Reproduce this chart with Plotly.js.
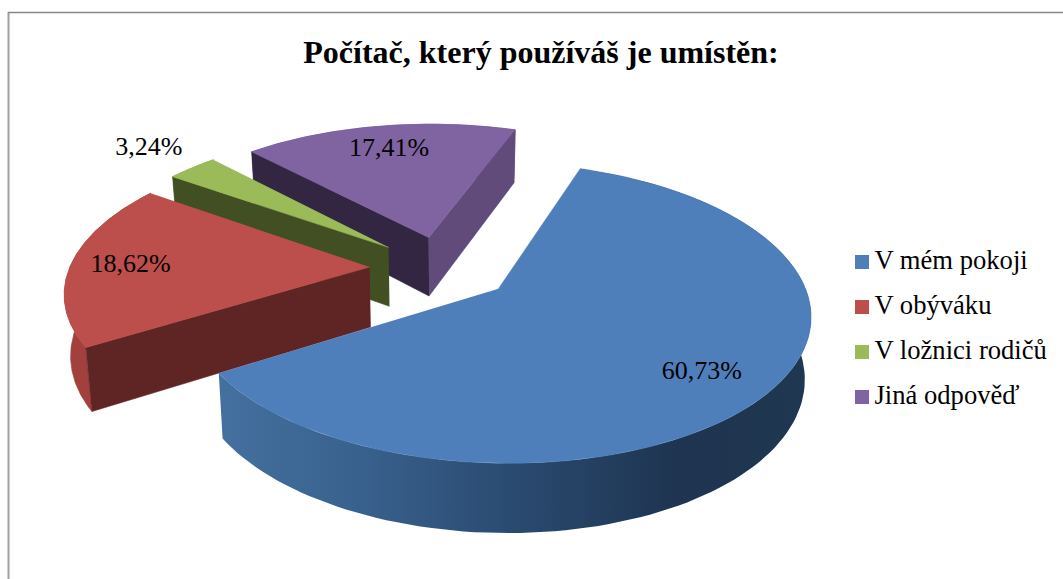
<!DOCTYPE html>
<html>
<head>
<meta charset="utf-8">
<script src="https://cdn.plot.ly/plotly-3.0.1.min.js"></script>
<style>
  html, body { margin: 0; padding: 0; background: #fff; }
  #chart { width: 1063px; height: 579px; }
</style>
</head>
<body>
<div id="chart"></div>
<script>
// Podíly odpovědí
const categories = ["V mém pokoji", "V obýváku", "V ložnici rodičů", "Jiná odpověď"];
const shares = [60.73, 18.62, 3.24, 17.41];

// Barvy, null = stěna není vidět
const topColors = ["#4f7fbb", "#bc4f4b", "#9bbb59", "#8063a1"];
const rimColors = ["#2d4d74", "#a2403d", "#7d9847", "#604b7a"];
const startFaceColors = [null, "#5f2524", "#414f22", "#332642"];
const endFaceColors = [null, null, null, "#604b7a"];
const labelRadius = [0.79, 0.80, 1.26, 0.77];
const labelTurn = [2.7, -0.6, 0.4, 0];

// Geometrie falešného 3D koláče (px)
const cx = 440.5, cy = 268;
const radiusX = 300, radiusY = 140;
const perspective = 0.157;
const depth = 60, depthScale = 0.983;
const explode = 0.23;
const firstAngle = 19.5;
const nudgeX = [3, -2, -1, 2], nudgeY = [0, 0, 0, 0];
const legendX = 862, legendTextX = 874.5, legendY = 262, legendStep = 45;
const font = "'Liberation Serif', 'Times New Roman', serif";

function rad(deg) { return deg * Math.PI / 180; }

function project(px, py, low, i) {
  const s = 1 / (1 + perspective * py);
  const f = low ? depthScale : 1;
  return [
    cx + nudgeX[i] + radiusX * px * s * f,
    cy + nudgeY[i] - radiusY * py * s * f + (low ? depth * s : 0)
  ];
}

function polygon(points, color, gradient) {
  const trace = {
    x: points.map(p => p[0]),
    y: points.map(p => p[1]),
    type: "scatter",
    mode: "lines",
    fill: "toself",
    fillcolor: color,
    line: { width: gradient ? 0 : 0.6, color: color },
    hoverinfo: "skip",
    showlegend: false
  };
  if (gradient) trace.fillgradient = gradient;
  return trace;
}

// Rozsahy úhlů výsečí, vše počítané z podílů
const slices = [];
let angle = firstAngle;
shares.forEach((v, i) => {
  const sweep = v / 100 * 360;
  const mid = angle + sweep / 2;
  slices.push({
    i,
    from: angle,
    to: angle + sweep,
    mid,
    ox: explode * Math.sin(rad(mid)),
    oy: explode * Math.cos(rad(mid))
  });
  angle += sweep;
});

function arc(sl, low) {
  const pts = [];
  const steps = 120;
  for (let n = 0; n <= steps; n++) {
    const a = rad(sl.from + (sl.to - sl.from) * n / steps);
    pts.push(project(sl.ox + Math.sin(a), sl.oy + Math.cos(a), low, sl.i));
  }
  return pts;
}

const blueSide = {
  type: "horizontal",
  colorscale: [[0, "#44709f"], [0.25, "#38608c"], [0.5, "#2a4a70"], [0.78, "#1e3450"], [1, "#203751"]]
};

const traces = [];
// Malujeme odzadu dopředu
[3, 2, 1, 0].forEach(i => {
  const sl = slices[i];
  const top = arc(sl, false);
  const low = arc(sl, true);
  const apexTop = project(sl.ox, sl.oy, false, i);
  const apexLow = project(sl.ox, sl.oy, true, i);
  traces.push(polygon(top.concat(low.slice().reverse()), rimColors[i], i === 0 ? blueSide : null));
  if (endFaceColors[i]) {
    traces.push(polygon([apexTop, top[top.length - 1], low[low.length - 1], apexLow], endFaceColors[i]));
  }
  if (startFaceColors[i]) {
    traces.push(polygon([apexTop, top[0], low[0], apexLow], startFaceColors[i]));
  }
  traces.push(polygon([apexTop].concat(top), topColors[i]));
});

// Popisky hodnot
const labelPts = slices.map(sl => {
  const a = rad(sl.mid + labelTurn[sl.i]);
  return project(sl.ox + labelRadius[sl.i] * Math.sin(a), sl.oy + labelRadius[sl.i] * Math.cos(a), false, sl.i);
});
traces.push({
  x: labelPts.map(p => p[0]),
  y: labelPts.map(p => p[1]),
  text: shares.map(v => v.toFixed(2).replace(".", ",") + "%"),
  type: "scatter",
  mode: "text",
  textposition: "middle center",
  textfont: { family: font, size: 26, color: "#000" },
  hoverinfo: "skip",
  showlegend: false
});

// Legenda: čtverečky a texty zvlášť, kvůli přesným rozestupům
traces.push({
  x: categories.map(() => legendX),
  y: categories.map((_, i) => legendY + i * legendStep),
  type: "scatter",
  mode: "markers",
  marker: { symbol: "square", size: 14, color: topColors },
  hoverinfo: "skip",
  showlegend: false
});
traces.push({
  x: categories.map(() => legendTextX),
  y: categories.map((_, i) => legendY + i * legendStep),
  text: categories,
  type: "scatter",
  mode: "text",
  textposition: "middle right",
  textfont: { family: font, size: 26.6, color: "#000" },
  hoverinfo: "skip",
  cliponaxis: false,
  showlegend: false
});

Plotly.newPlot("chart", traces, {
  width: 1063,
  height: 579,
  margin: { l: 0, r: 0, t: 0, b: 0 },
  paper_bgcolor: "#fff",
  plot_bgcolor: "#fff",
  title: {
    text: "<b>Počítač, který používáš je umístěn:</b>",
    font: { family: font, size: 32, color: "#000" },
    x: 541 / 1063,
    xanchor: "center",
    y: 1 - 52 / 579,
    yanchor: "middle"
  },
  xaxis: { range: [0, 1063], visible: false, fixedrange: true },
  yaxis: { range: [579, 0], visible: false, fixedrange: true },
  shapes: [
    { type: "line", x0: 8.5, x1: 8.5, y0: 12, y1: 579, layer: "below", line: { color: "#a0a0a0", width: 2 } },
    { type: "line", x0: 8, x1: 1063, y0: 12.5, y1: 12.5, layer: "below", line: { color: "#868686", width: 1.5 } }
  ],
  showlegend: false
}, { displayModeBar: false, staticPlot: true });
</script>
</body>
</html>
